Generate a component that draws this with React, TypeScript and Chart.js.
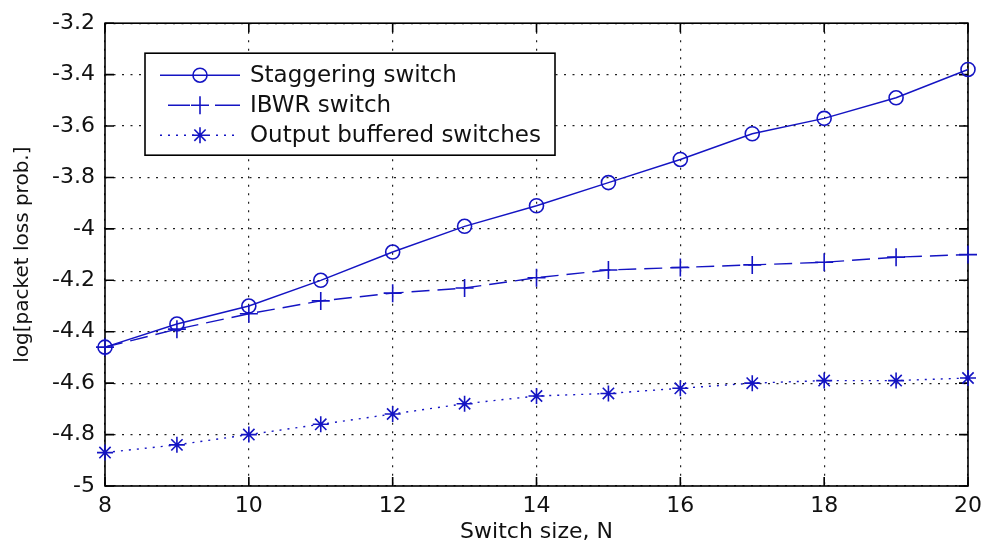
import React, { useEffect, useRef } from "react";
import { Chart, registerables } from "chart.js";

Chart.register(...registerables);

const switchSizes = [8, 9, 10, 11, 12, 13, 14, 15, 16, 17, 18, 19, 20];
const staggering = [-4.46, -4.37, -4.3, -4.2, -4.09, -3.99, -3.91, -3.82, -3.73, -3.63, -3.57, -3.49, -3.38];
const ibwr = [-4.46, -4.39, -4.33, -4.28, -4.25, -4.23, -4.19, -4.16, -4.15, -4.14, -4.13, -4.11, -4.1];
const outputBuffered = [-4.87, -4.84, -4.8, -4.76, -4.72, -4.68, -4.65, -4.64, -4.62, -4.6, -4.59, -4.59, -4.58];
const xTickValues = [8, 10, 12, 14, 16, 18, 20];
const yTickValues = [-5, -4.8, -4.6, -4.4, -4.2, -4, -3.8, -3.6, -3.4, -3.2];
const seriesLabels = ["Staggering switch", "IBWR switch", "Output buffered switches"];
const xTitle = "Switch size, N";
const yTitle = "log[packet loss prob.]";

const BLUE = "rgb(20,20,195)";
const FONT = "'DejaVu Sans', sans-serif";

function drawMarker(ctx: CanvasRenderingContext2D, style: string, x: number, y: number) {
  ctx.save();
  ctx.setLineDash([]);
  ctx.strokeStyle = BLUE;
  ctx.fillStyle = BLUE;
  ctx.lineWidth = 1.6;
  ctx.beginPath();
  if (style === "circle") {
    ctx.arc(x, y, 7, 0, Math.PI * 2);
  } else if (style === "cross") {
    ctx.moveTo(x - 9, y);
    ctx.lineTo(x + 9, y);
    ctx.moveTo(x, y - 9);
    ctx.lineTo(x, y + 9);
  } else {
    const r = 8;
    const d = r * Math.SQRT1_2;
    ctx.moveTo(x - r, y);
    ctx.lineTo(x + r, y);
    ctx.moveTo(x, y - r);
    ctx.lineTo(x, y + r);
    ctx.moveTo(x - d, y - d);
    ctx.lineTo(x + d, y + d);
    ctx.moveTo(x - d, y + d);
    ctx.lineTo(x + d, y - d);
  }
  ctx.stroke();
  ctx.restore();
}

const framePlugin = {
  id: "matlabFrame",
  beforeDatasetsDraw(chart: any) {
    const { ctx, chartArea: a, scales } = chart;
    const xs = scales.x;
    const ys = scales.y;
    ctx.save();
    ctx.strokeStyle = "#000";
    ctx.lineWidth = 1.6;
    ctx.setLineDash([]);
    ctx.strokeRect(a.left, a.top, a.right - a.left, a.bottom - a.top);
    const tl = 9;
    ctx.beginPath();
    xTickValues.forEach((v) => {
      const px = xs.getPixelForValue(v);
      ctx.moveTo(px, a.bottom);
      ctx.lineTo(px, a.bottom - tl);
      ctx.moveTo(px, a.top);
      ctx.lineTo(px, a.top + tl);
    });
    yTickValues.forEach((v) => {
      const py = ys.getPixelForValue(v);
      ctx.moveTo(a.left, py);
      ctx.lineTo(a.left + tl, py);
      ctx.moveTo(a.right, py);
      ctx.lineTo(a.right - tl, py);
    });
    ctx.stroke();
    ctx.restore();
  },
  afterDraw(chart: any) {
    const { ctx, chartArea: a } = chart;
    const lx = a.left + 40;
    const ly = a.top + 30;
    const lw = 410;
    const lh = 102;
    ctx.save();
    ctx.fillStyle = "#fff";
    ctx.fillRect(lx, ly, lw, lh);
    ctx.strokeStyle = "#000";
    ctx.lineWidth = 1.6;
    ctx.setLineDash([]);
    ctx.strokeRect(lx, ly, lw, lh);
    const styles = ["circle", "cross", "star"];
    chart.data.datasets.forEach((ds: any, i: number) => {
      const ry = ly + 22 + i * 30;
      ctx.save();
      ctx.strokeStyle = BLUE;
      ctx.lineWidth = 1.4;
      ctx.beginPath();
      if (i === 1) {
        ctx.setLineDash([]);
        ctx.moveTo(lx + 23, ry);
        ctx.lineTo(lx + 45, ry);
        ctx.moveTo(lx + 70, ry);
        ctx.lineTo(lx + 95, ry);
      } else {
        ctx.setLineDash(ds.borderDash || []);
        ctx.moveTo(lx + 15, ry);
        ctx.lineTo(lx + 95, ry);
      }
      ctx.stroke();
      ctx.restore();
      drawMarker(ctx, styles[i], lx + 55, ry);
      ctx.fillStyle = "#111";
      ctx.font = `23px ${FONT}`;
      ctx.textBaseline = "middle";
      ctx.textAlign = "left";
      ctx.fillText(ds.label, lx + 105, ry + 1);
    });
    ctx.restore();
  },
};

export default function App() {
  const canvasRef = useRef<HTMLCanvasElement | null>(null);

  useEffect(() => {
    const canvas = canvasRef.current;
    if (!canvas) return;
    Chart.defaults.font.family = FONT;
    const toPts = (ys: number[]) => switchSizes.map((x, i) => ({ x, y: ys[i] }));
    const chart = new Chart(canvas, {
      type: "line",
      data: {
        datasets: [
          {
            label: seriesLabels[0],
            data: toPts(staggering),
            borderColor: BLUE,
            borderWidth: 1.4,
            pointStyle: "circle",
            pointRadius: 7,
            pointBorderWidth: 1.6,
            pointBorderColor: BLUE,
            pointBackgroundColor: "rgba(0,0,0,0)",
            tension: 0,
            clip: false,
          },
          {
            label: seriesLabels[1],
            data: toPts(ibwr),
            borderColor: BLUE,
            borderWidth: 1.4,
            borderDash: [18, 8],
            pointStyle: "cross",
            pointRadius: 9,
            pointBorderWidth: 1.6,
            pointBorderColor: BLUE,
            pointBackgroundColor: BLUE,
            tension: 0,
            clip: false,
          },
          {
            label: seriesLabels[2],
            data: toPts(outputBuffered),
            borderColor: BLUE,
            borderWidth: 1.4,
            borderDash: [2, 6],
            pointStyle: "star",
            pointRadius: 8,
            pointBorderWidth: 1.6,
            pointBorderColor: BLUE,
            pointBackgroundColor: BLUE,
            tension: 0,
            clip: false,
          },
        ],
      },
      options: {
        responsive: false,
        animation: false,
        devicePixelRatio: 1,
        layout: { padding: { top: 14, right: 15, left: 0, bottom: 0 } },
        plugins: {
          legend: { display: false },
          tooltip: { enabled: false },
        },
        scales: {
          x: {
            type: "linear",
            min: 8,
            max: 20,
            afterBuildTicks: (scale: any) => {
              scale.ticks = xTickValues.map((v) => ({ value: v }));
            },
            afterFit: (scale: any) => {
              scale.height = 62;
            },
            ticks: {
              color: "#111",
              font: { size: 22, family: FONT },
              padding: 7,
              maxRotation: 0,
              callback: (v: any) => String(v),
            },
            grid: {
              color: "#222",
              lineWidth: 1.2,
              drawTicks: false,
            },
            border: { display: false, dash: [2, 6.5] },
            title: {
              display: true,
              text: xTitle,
              color: "#111",
              font: { size: 22, family: FONT },
              padding: { top: 0, bottom: 3 },
            },
          },
          y: {
            type: "linear",
            min: -5,
            max: -3.2,
            afterBuildTicks: (scale: any) => {
              scale.ticks = yTickValues.map((v) => ({ value: v }));
            },
            afterFit: (scale: any) => {
              scale.width = 105;
            },
            ticks: {
              color: "#111",
              font: { size: 22, family: FONT },
              padding: 10,
              callback: (v: any) => String(Number(Number(v).toFixed(1))),
            },
            grid: {
              color: "#222",
              lineWidth: 1.2,
              drawTicks: false,
            },
            border: { display: false, dash: [2, 6.5] },
            title: {
              display: true,
              text: yTitle,
              color: "#111",
              font: { size: 20, family: FONT },
              padding: { top: 11, bottom: 0 },
            },
          },
        },
      } as any,
      plugins: [framePlugin],
    });
    return () => chart.destroy();
  }, []);

  return (
    <div style={{ position: "fixed", left: 0, top: 0, width: 989, height: 548, background: "#fff" }}>
      <canvas ref={canvasRef} width={989} height={548} />
    </div>
  );
}
